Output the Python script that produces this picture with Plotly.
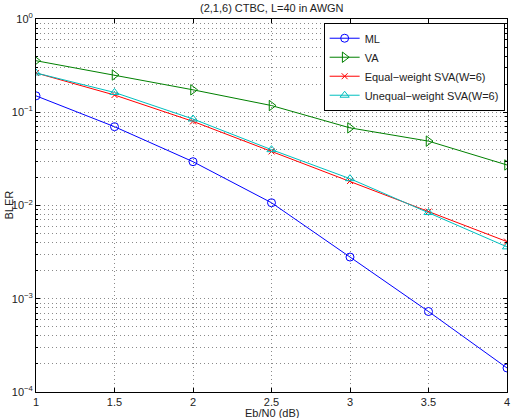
import plotly.graph_objects as go

ebn0 = [1, 1.5, 2, 2.5, 3, 3.5, 4]
ml = [0.150, 0.070, 0.0295, 0.0107, 0.0028, 0.00073, 0.000181]
va = [0.357, 0.251, 0.174, 0.118, 0.068, 0.049, 0.0272]
eq_sva = [0.264, 0.153, 0.0798, 0.038, 0.0183, 0.0086, 0.0041]
uneq_sva = [0.264, 0.163, 0.0847, 0.0397, 0.0194, 0.0084, 0.0036]

x_ticks = [1, 1.5, 2, 2.5, 3, 3.5, 4]
x_ticktext = ["1", "1.5", "2", "2.5", "3", "3.5", "4"]
decades = [-4, -3, -2, -1, 0]

y_major = [10 ** d for d in decades]
y_text = ["10<sup>%s</sup>" % str(d).replace("-", "\u2212") for d in decades]
y_minor = [m * 10 ** d for d in decades[:-1] for m in range(2, 10)]

fig = go.Figure()
series = [
    ("ML", ml, "#0000ff", "circle-open", 8),
    ("VA", va, "#008000", "triangle-right-open", 9),
    ("Equal\u2212weight SVA(W=6)", eq_sva, "#ff0000", "x-thin-open", 6),
    ("Unequal\u2212weight SVA(W=6)", uneq_sva, "#00bfbf", "triangle-up-open", 8),
]
for name, vals, col, sym, sz in series:
    fig.add_trace(go.Scatter(
        x=ebn0, y=vals, name=name, mode="lines+markers",
        line=dict(color=col, width=1),
        marker=dict(symbol=sym, size=sz, color=col, line=dict(color=col, width=1)),
    ))

axis_common = dict(
    showline=True, linecolor="black", linewidth=1, mirror="ticks",
    ticks="inside", ticklen=4, tickcolor="black",
    showgrid=True, gridcolor="#8a8a8a", griddash="1px,3px", gridwidth=1,
    zeroline=False,
    tickfont=dict(family="Liberation Sans, Arial, sans-serif", size=11, color="#222"),
)

fig.update_xaxes(range=[1, 4], tickvals=x_ticks, ticktext=x_ticktext, **axis_common)
fig.update_yaxes(
    type="log", range=[-4, 0], tickvals=y_major, ticktext=y_text,
    minor=dict(tickvals=y_minor, ticks="inside", ticklen=2, tickcolor="black",
               showgrid=True, gridcolor="#8a8a8a", griddash="1px,3px", gridwidth=1),
    **axis_common,
)

fig.update_layout(
    width=514, height=418,
    margin=dict(l=36, r=4, t=19, b=26),
    plot_bgcolor="white", paper_bgcolor="white",
    font=dict(family="Liberation Sans, Arial, sans-serif", size=11, color="#222"),
    legend=dict(
        x=0.995, y=0.99, xanchor="right", yanchor="top",
        bgcolor="white", bordercolor="black", borderwidth=1,
        font=dict(size=11), tracegroupgap=0, itemwidth=30,
    ),
    showlegend=True,
    annotations=[
        dict(text="(2,1,6) CTBC, L=40 in AWGN", xref="paper", yref="paper",
             x=0.5, y=1, yshift=11, xanchor="center", yanchor="middle",
             showarrow=False, font=dict(size=11)),
        dict(text="Eb/N0 (dB)", xref="paper", yref="paper",
             x=0.5, y=0, yshift=-13, xanchor="center", yanchor="top",
             showarrow=False, font=dict(size=11)),
        dict(text="BLER", xref="paper", yref="paper", textangle=-90,
             x=0, xshift=-28, y=0.5, xanchor="center", yanchor="middle",
             showarrow=False, font=dict(size=11)),
    ],
)

fig.write_html("out.html")
